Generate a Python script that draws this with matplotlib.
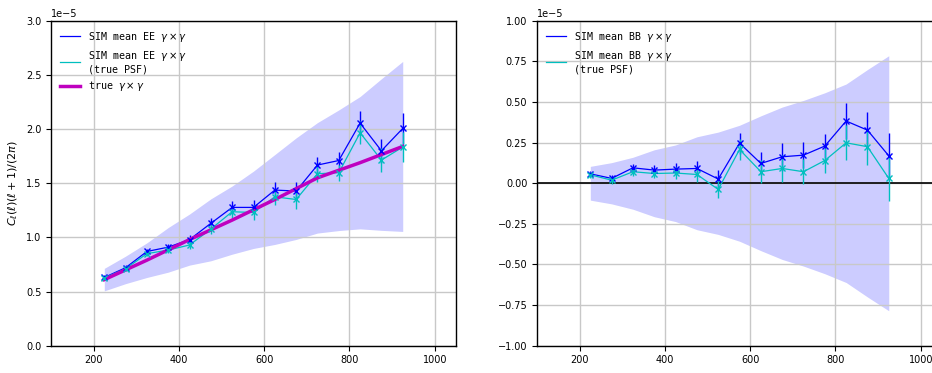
import numpy as np
import matplotlib
matplotlib.use("Agg")
import matplotlib.pyplot as plt

plt.rcParams['font.size'] = 7

# multipole bins
ell = [225, 275, 325, 375, 425, 475, 525, 575, 625, 675, 725, 775, 825, 875, 925]

# EE spectra (units of 1e-5)
ee_sim = [0.63, 0.72, 0.87, 0.91, 0.98, 1.13, 1.277, 1.277, 1.437, 1.428, 1.668, 1.71, 2.055, 1.80, 2.006]
ee_sim_psf = [0.625, 0.71, 0.85, 0.883, 0.93, 1.077, 1.237, 1.23, 1.375, 1.35, 1.588, 1.597, 1.966, 1.714, 1.834]
ee_true = [0.61, 0.70, 0.79, 0.885, 0.98, 1.07, 1.16, 1.255, 1.35, 1.45, 1.55, 1.62, 1.69, 1.765, 1.84]

# BB spectra (units of 1e-5)
bb_sim = [0.058, 0.03, 0.095, 0.081, 0.087, 0.091, 0.026, 0.247, 0.122, 0.163, 0.173, 0.229, 0.383, 0.327, 0.169]
bb_sim_psf = [0.052, 0.019, 0.071, 0.06, 0.063, 0.054, -0.038, 0.208, 0.071, 0.091, 0.071, 0.14, 0.249, 0.225, 0.03]

# errors on the mean and per-realisation scatter (units of 1e-5)
err_mean = [0.02, 0.022, 0.025, 0.03, 0.038, 0.045, 0.055, 0.065, 0.072, 0.085, 0.078, 0.075, 0.108, 0.11, 0.14]
sigma = [0.104, 0.127, 0.16, 0.206, 0.236, 0.286, 0.315, 0.357, 0.415, 0.469, 0.51, 0.557, 0.611, 0.70, 0.785]

scale = 1e-5
ell = np.array(ell)
ee_sim = np.array(ee_sim) * scale
ee_sim_psf = np.array(ee_sim_psf) * scale
ee_true = np.array(ee_true) * scale
bb_sim = np.array(bb_sim) * scale
bb_sim_psf = np.array(bb_sim_psf) * scale
err_mean = np.array(err_mean) * scale
sigma = np.array(sigma) * scale

fig = plt.figure(figsize=(9.32, 3.73), dpi=100)
ax1 = fig.add_axes([0.0547, 0.0732, 0.4346, 0.871])
ax2 = fig.add_axes([0.5762, 0.0732, 0.4346, 0.871])

mono = {'family': 'monospace', 'size': 7.2}

# EE panel
ax1.fill_between(ell, ee_true - sigma, ee_true + sigma, color='b', alpha=0.2, lw=0)
ax1.plot(ell, ee_sim, color='b', lw=0.9, label=r'SIM mean EE $\gamma\times\gamma$')
ax1.errorbar(ell, ee_sim, yerr=err_mean, fmt='x', color='b', ms=4.5, elinewidth=1)
ax1.plot(ell, ee_sim_psf, color='c', lw=0.9, label='SIM mean EE $\\gamma\\times\\gamma$\n(true PSF)')
ax1.errorbar(ell, ee_sim_psf, yerr=err_mean, fmt='x', color='c', ms=4.5, elinewidth=1)
ax1.plot(ell, ee_true, color='m', lw=2.5, label=r'true $\gamma\times\gamma$')
ax1.set_xlim(100, 1050)
ax1.set_ylim(0, 3e-5)
ax1.set_xlabel(r'$\ell$', fontsize=8)
ax1.set_ylabel(r'$C_\ell(\ell)(\ell+1)/(2\pi)$', fontsize=8)
ax1.grid(True, color='#c8c8c8', lw=1)
ax1.legend(loc='upper left', frameon=False, prop=mono)

# BB panel
ax2.fill_between(ell, -sigma, sigma, color='b', alpha=0.2, lw=0)
ax2.axhline(0, color='k', lw=1.2)
ax2.plot(ell, bb_sim, color='b', lw=0.9, label=r'SIM mean BB $\gamma\times\gamma$')
ax2.errorbar(ell, bb_sim, yerr=err_mean, fmt='x', color='b', ms=4.5, elinewidth=1)
ax2.plot(ell, bb_sim_psf, color='c', lw=0.9, label='SIM mean BB $\\gamma\\times\\gamma$\n(true PSF)')
ax2.errorbar(ell, bb_sim_psf, yerr=err_mean, fmt='x', color='c', ms=4.5, elinewidth=1)
ax2.set_xlim(100, 1050)
ax2.set_ylim(-1e-5, 1e-5)
ax2.set_xlabel(r'$\ell$', fontsize=8)
ax2.grid(True, color='#c8c8c8', lw=1)
ax2.legend(loc='upper left', frameon=False, prop=mono)

for ax in (ax1, ax2):
    for sp in ax.spines.values():
        sp.set_linewidth(1.0)

fig.savefig('out.png', dpi=100)
